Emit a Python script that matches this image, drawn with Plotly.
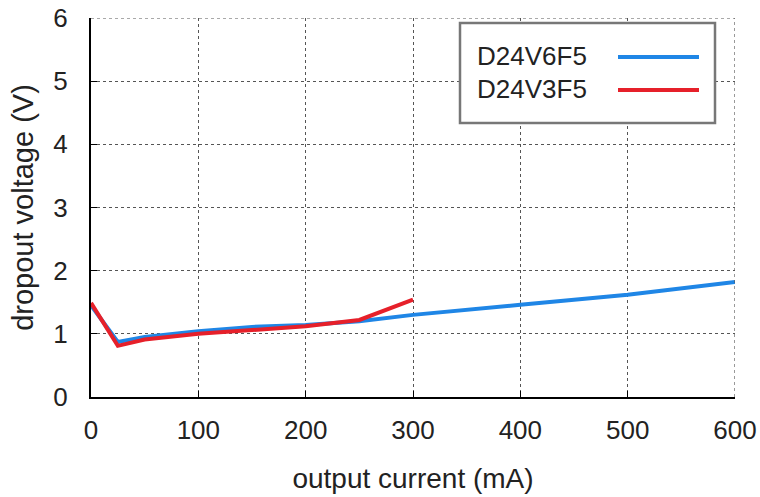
import plotly.graph_objects as go

x_v6 = [0, 25, 50, 100, 150, 200, 250, 300, 400, 500, 600]
y_v6 = [1.45, 0.87, 0.95, 1.04, 1.11, 1.14, 1.20, 1.30, 1.46, 1.62, 1.82]
x_v3 = [0, 25, 50, 100, 150, 200, 250, 300]
y_v3 = [1.49, 0.81, 0.91, 1.00, 1.06, 1.12, 1.22, 1.54]
names = ["D24V6F5", "D24V3F5"]
colors = ["#1f86e6", "#e6202a"]
x_ticks = [0, 100, 200, 300, 400, 500, 600]
y_ticks = [0, 1, 2, 3, 4, 5, 6]

fig = go.Figure()
fig.add_trace(go.Scatter(x=x_v6, y=y_v6, mode="lines", name=names[0],
                         line=dict(color=colors[0], width=4)))
fig.add_trace(go.Scatter(x=x_v3, y=y_v3, mode="lines", name=names[1],
                         line=dict(color=colors[1], width=4)))

font = "Liberation Sans, Arial, sans-serif"
# plot area at x 91-735, y 18-397
ML, MR, MT, MB = 91, 25, 18, 100
W, H = 760, 497
fig.update_layout(
    width=W, height=H,
    margin=dict(l=ML, r=MR, t=MT, b=MB),
    paper_bgcolor="white", plot_bgcolor="white",
    showlegend=False,
    font=dict(family=font, color="#222", size=26),
)
fig.update_xaxes(range=[0, 600], tickvals=x_ticks, showgrid=True, griddash="dot",
                 gridcolor="#555", gridwidth=1.2, showline=True, linecolor="black",
                 linewidth=2, ticks="inside", ticklen=6, tickcolor="black",
                 zeroline=False, tickfont=dict(size=26), ticklabelstandoff=9,
                 automargin=False, ticklabeloverflow="allow",
                 title=dict(text="output current (mA)", font=dict(size=28), standoff=24))
fig.update_yaxes(range=[0, 6], tickvals=y_ticks, showgrid=True, griddash="dot",
                 gridcolor="#555", gridwidth=1.2, showline=True, linecolor="black",
                 linewidth=2, ticks="inside", ticklen=6, tickcolor="black",
                 zeroline=False, tickfont=dict(size=26), ticklabelstandoff=16,
                 automargin=False, ticklabeloverflow="allow",
                 title=dict(text="dropout voltage (V)", font=dict(size=29), standoff=11))

# dotted frame on top and right
fig.add_shape(type="line", xref="x", yref="paper", x0=600, x1=600, y0=0, y1=1,
              line=dict(color="#555", width=1.2, dash="dot"))
fig.add_shape(type="line", xref="paper", yref="y", x0=0, x1=1, y0=6, y1=6,
              line=dict(color="#555", width=1.2, dash="dot"))

# custom legend (text left, sample line right), positions in px
pw = W - ML - MR
ph = H - MT - MB
def px(xs):
    return (xs - ML) / pw
def py(ys):
    return 1 - (ys - MT) / ph

fig.add_shape(type="rect", xref="paper", yref="paper",
              x0=px(460), x1=px(715), y0=py(123), y1=py(23),
              line=dict(color="#777", width=2.5), fillcolor="white")
for i, (nm, c) in enumerate(zip(names, colors)):
    yc = 56 + i * 33
    fig.add_annotation(xref="paper", yref="paper", x=px(475), y=py(yc), text=nm,
                       showarrow=False, xanchor="left", yanchor="middle",
                       font=dict(size=26, color="#222", family=font))
    fig.add_shape(type="line", xref="paper", yref="paper", x0=px(618), x1=px(699),
                  y0=py(yc + 1), y1=py(yc + 1), line=dict(color=c, width=4))

fig.write_html("out.html", config={"displayModeBar": False},
               post_script="document.body.style.margin='0px';"
                           "document.body.style.overflow='hidden';")
